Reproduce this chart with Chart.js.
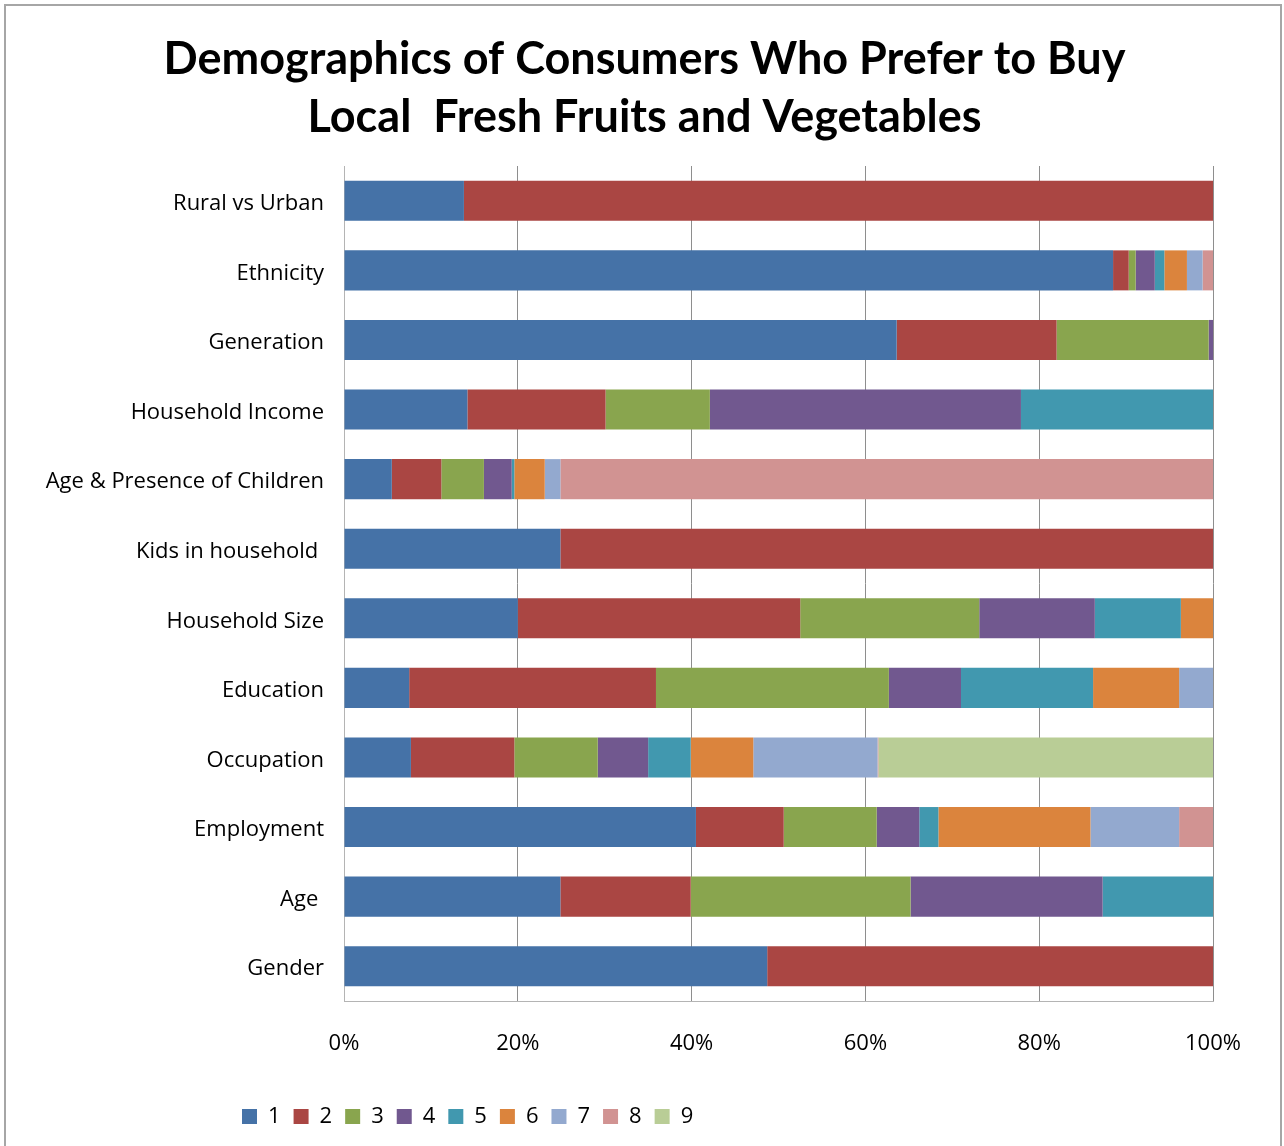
<!DOCTYPE html>
<html>
<head>
<meta charset="utf-8">
<title>Demographics of Consumers Who Prefer to Buy Local Fresh Fruits and Vegetables</title>
<script src="https://cdn.jsdelivr.net/npm/chart.js@4"></script>
<style>
  html, body { margin: 0; padding: 0; background: #ffffff; }
  #wrap { width: 1284px; height: 1146px; position: relative; }
</style>
</head>
<body>
<div id="wrap"><canvas id="demoChart" width="1284" height="1146"></canvas></div>
<script>
// ==========================================
// DATA
// ==========================================

const categories = [
  "Rural vs Urban",
  "Ethnicity",
  "Generation",
  "Household Income",
  "Age & Presence of Children",
  "Kids in household ",
  "Household Size",
  "Education",
  "Occupation",
  "Employment",
  "Age ",
  "Gender",
];

// share (%) of each group, one array per legend entry
const group1 = [13.8, 88.5, 63.6, 14.2, 5.5, 24.9, 20.0, 7.5, 7.7, 40.5, 24.9, 48.7];
const group2 = [86.2, 1.8, 18.4, 15.9, 5.7, 75.1, 32.5, 28.4, 11.9, 10.1, 15.0, 51.3];
const group3 = [0, 0.8, 17.5, 12.0, 4.9, 0, 20.6, 26.8, 9.6, 10.7, 25.3, 0];
const group4 = [0, 2.2, 0.5, 35.8, 3.2, 0, 13.3, 8.3, 5.8, 4.9, 22.1, 0];
const group5 = [0, 1.1, 0, 22.1, 0.3, 0, 9.9, 15.2, 4.9, 2.2, 12.7, 0];
const group6 = [0, 2.6, 0, 0, 3.5, 0, 3.7, 9.9, 7.2, 17.5, 0, 0];
const group7 = [0, 1.8, 0, 0, 1.8, 0, 0, 3.9, 14.3, 10.2, 0, 0];
const group8 = [0, 1.2, 0, 0, 75.1, 0, 0, 0, 0.1, 3.9, 0, 0];
const group9 = [0, 0, 0, 0, 0, 0, 0, 0, 38.5, 0, 0, 0];

const seriesNames = ["1", "2", "3", "4", "5", "6", "7", "8", "9"];
const seriesData = [group1, group2, group3, group4, group5, group6, group7, group8, group9];
const seriesColors = [
  "#4572A7", "#AA4643", "#89A54E", "#71588F", "#4198AF",
  "#DB843D", "#93A9CF", "#D19392", "#B9CD96",
];

const xTickLabels = ["0%", "20%", "40%", "60%", "80%", "100%"];

const titleLines = [
  "Demographics of Consumers Who Prefer to Buy",
  "Local  Fresh Fruits and Vegetables",
];

// ==========================================
// PLUGINS
// ==========================================

// outer frame around the whole chart
const frame = {
  id: "frame",
  beforeDraw(chart) {
    const ctx = chart.ctx;
    ctx.save();
    ctx.strokeStyle = "#a6a6a6";
    ctx.lineWidth = 2;
    ctx.strokeRect(5, 5, 1276, 1160);
    ctx.restore();
  },
};

// title centred on the whole frame, legend at a fixed spot under the plot
const placeBoxes = {
  id: "placeBoxes",
  afterLayout(chart) {
    const t = chart.titleBlock;
    t.left = 6;
    t.right = 1283;
    t.width = t.right - t.left;

    const lg = chart.legend;
    const pad = lg.options.labels.padding;
    const h = lg.height;
    lg.left = 242 - pad;
    lg.top = 1105.5 - pad;
    lg.bottom = lg.top + h;
  },
};

// ==========================================
// CHART
// ==========================================

Chart.defaults.font.family = "'Open Sans', sans-serif";
Chart.defaults.color = "#000000";

const datasets = seriesNames.map((name, i) => ({
  label: name,
  data: seriesData[i],
  backgroundColor: seriesColors[i],
  borderWidth: 0,
  barPercentage: 0.575,
  categoryPercentage: 1.0,
}));

new Chart(document.getElementById("demoChart").getContext("2d"), {
  type: "bar",
  data: { labels: categories, datasets: datasets },
  options: {
    indexAxis: "y",
    responsive: false,
    animation: false,
    layout: { padding: { top: 0, left: 0, right: 71, bottom: 20 } },
    plugins: {
      title: {
        display: true,
        text: titleLines,
        font: { family: "Lato, sans-serif", size: 45, weight: "bold", lineHeight: 58 / 45 },
        color: "#000000",
        padding: { top: 30, bottom: 20 },
      },
      legend: {
        position: "bottom",
        align: "start",
        labels: {
          boxWidth: 15,
          boxHeight: 15,
          padding: 13,
          font: { size: 22 },
          color: "#000000",
        },
      },
      tooltip: { enabled: false },
    },
    scales: {
      x: {
        stacked: true,
        min: 0,
        max: 100,
        ticks: {
          stepSize: 20,
          padding: 30,
          font: { size: 22 },
          color: "#000000",
          callback: (value) => xTickLabels[Math.round(value / 20)],
        },
        grid: {
          drawTicks: false,
          color: (c) => (c.index === 0 ? "#b4b4b4" : "#8e8e8e"),
        },
        border: { display: true, color: "#b4b4b4" },
        afterFit(scale) {
          scale.height = 80;
        },
      },
      y: {
        stacked: true,
        ticks: {
          padding: 20,
          labelOffset: 3,
          font: { size: 22 },
          color: "#000000",
        },
        grid: { display: false, drawTicks: false },
        border: { display: true, color: "#b4b4b4" },
        afterFit(scale) {
          scale.width = 344;
        },
      },
    },
  },
  plugins: [frame, placeBoxes],
});
</script>
</body>
</html>
